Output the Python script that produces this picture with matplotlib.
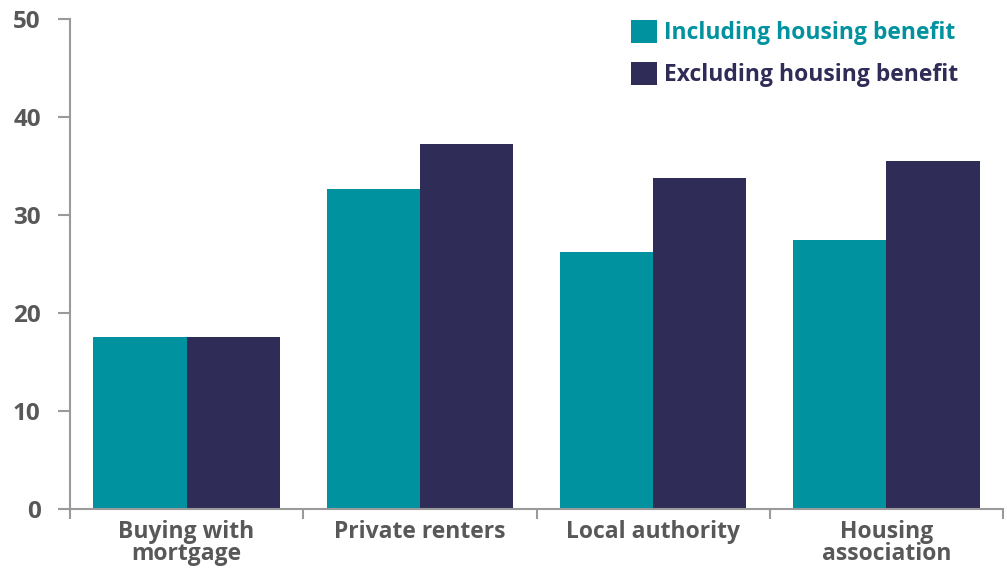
import numpy as np
import matplotlib.pyplot as plt

categories = ["Buying with\nmortgage", "Private renters", "Local authority", "Housing\nassociation"]
including_hb = [17.6, 32.7, 26.2, 27.4]
excluding_hb = [17.6, 37.2, 33.8, 35.5]
yticks = [0, 10, 20, 30, 40, 50]

teal = "#00929f"
navy = "#302c58"
grey_txt = "#585858"
axis_col = "#9a9a9a"

plt.rcParams['font.family'] = ['Open Sans', 'DejaVu Sans']

fig = plt.figure(figsize=(10.07, 5.71), dpi=100)
ax = fig.add_axes([70 / 1007, 1 - 509 / 571, 933 / 1007, 490 / 571])

x = np.arange(len(categories))
w = 0.4
ax.bar(x - w / 2, including_hb, w, color=teal, label="Including housing benefit")
ax.bar(x + w / 2, excluding_hb, w, color=navy, label="Excluding housing benefit")

ax.set_xlim(-0.5, len(categories) - 0.5)
ax.set_ylim(0, 50)
ax.set_yticks(yticks)
ax.set_yticklabels([str(t) for t in yticks], fontsize=17.5, fontweight='bold', color=grey_txt)

# category labels between boundary ticks
ax.set_xticks(np.arange(len(categories) + 1) - 0.5)
ax.set_xticklabels([])
ax.set_xticks(x, minor=True)
ax.set_xticklabels(categories, minor=True, fontsize=16.5, fontweight='bold',
                   color=grey_txt, linespacing=0.88)
ax.tick_params(axis='x', which='minor', length=0, pad=8)
ax.tick_params(axis='x', which='major', length=7, width=1.5, color=axis_col)
ax.tick_params(axis='y', length=9, width=1.5, color=axis_col, pad=12)

for s in ['top', 'right']:
    ax.spines[s].set_visible(False)
for s in ['left', 'bottom']:
    ax.spines[s].set_color(axis_col)
    ax.spines[s].set_linewidth(1.5)

leg = ax.legend(loc='upper left', bbox_to_anchor=(631 / 1007, 1 - 20 / 571),
                bbox_transform=fig.transFigure, frameon=False,
                borderpad=0, borderaxespad=0,
                handlelength=1.15, handleheight=1.15, handletextpad=0.3,
                labelspacing=0.75, prop={'size': 16.5, 'weight': 'bold'},
                labelcolor=[teal, navy])

fig.savefig("out.png", dpi=100)
